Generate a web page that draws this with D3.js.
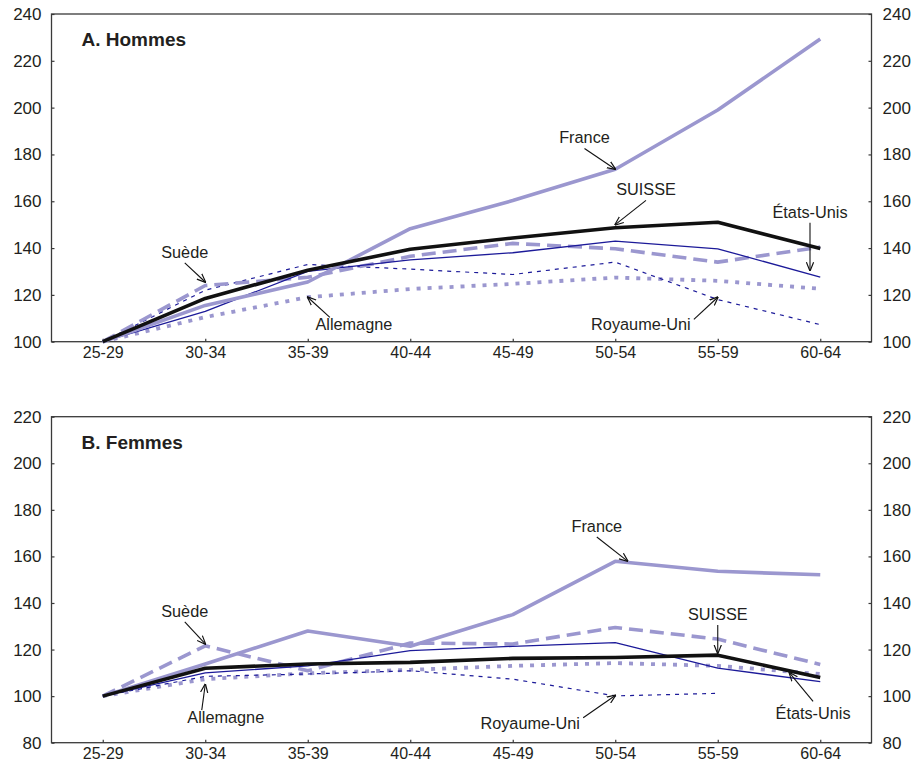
<!DOCTYPE html>
<html>
<head>
<meta charset="utf-8">
<script src="https://cdn.jsdelivr.net/npm/d3@7"></script>
<style>
  body { margin: 0; background: #fff; }
  text { font-family: "Liberation Sans", Arial, sans-serif; fill: #231f20; }
</style>
</head>
<body>
<div id="chart"></div>
<script>
// categories (age groups)
var ages = ["25-29", "30-34", "35-39", "40-44", "45-49", "50-54", "55-59", "60-64"];

// A. Hommes
var h_suisse    = [100, 118.5, 130.5, 139.5, 144.3, 148.7, 151, 139.8];
var h_france    = [100, 115.5, 125.5, 148.3, 160.3, 173.7, 199, 229.3];
var h_etatsunis = [100, 113, 130, 135, 138, 143, 139.7, 127.6];
var h_suede     = [100, 124, 127.5, 136.5, 142, 139.7, 134, 140.4];
var h_royaume   = [100, 122, 133, 131, 128.7, 134, 118, 107.3];
var h_allemagne = [100, 110.5, 119, 122.5, 124.7, 127.4, 126, 122.6];

// B. Femmes
var f_suisse    = [100, 112, 113.8, 114.5, 116.2, 116.6, 117.6, 108];
var f_france    = [100, 113.8, 128, 121.4, 135, 157.9, 153.6, 152.1];
var f_etatsunis = [100, 110, 113, 119.5, 121.4, 123, 112, 106.2];
var f_suede     = [100, 121.6, 110.9, 122.8, 122.4, 129.5, 124.5, 113.6];
var f_royaume   = [100, 108.5, 109.5, 110.9, 107.3, 100.1, 101.2, null];
var f_allemagne = [100, 107.3, 109.8, 111.3, 113, 114.2, 113, 109.5];

var ticksTop = [100, 120, 140, 160, 180, 200, 220, 240];
var ticksBottom = [80, 100, 120, 140, 160, 180, 200, 220];

// annotations: [text, label x (category index), label y (value), arrow end x, arrow end value]
var annTop = [
  ["France", 4.7, 184.7, 5.0, 173.7],
  ["SUISSE", 5.3, 162.5, 5.0, 150],
  ["États-Unis", 6.9, 153, 6.9, 130.5],
  ["Suède", 0.8, 135.8, 1.0, 125.5],
  ["Allemagne", 2.45, 104.8, 2.0, 119],
  ["Royaume-Uni", 5.25, 104.8, 6.0, 119]
];
var annBottom = [
  ["France", 4.82, 170.5, 5.12, 158],
  ["SUISSE", 6.0, 132.7, 6.0, 118.5],
  ["États-Unis", 6.93, 90, 6.7, 110],
  ["Suède", 0.8, 134, 1.0, 122.4],
  ["Allemagne", 1.2, 88.4, 1.0, 105],
  ["Royaume-Uni", 4.17, 86, 5.0, 100.3]
];

var W = 922, H = 764;
var left = 51.5, right = 871.5;

var svg = d3.select("#chart").append("svg")
  .attr("width", W).attr("height", H);

var defs = svg.append("defs");
defs.append("marker")
  .attr("id", "arrow")
  .attr("viewBox", "0 0 10 10")
  .attr("refX", 9).attr("refY", 5)
  .attr("markerWidth", 9).attr("markerHeight", 9)
  .attr("markerUnits", "userSpaceOnUse")
  .attr("orient", "auto")
  .append("path")
  .attr("d", "M0,1 L10,5 L0,9")
  .attr("fill", "none")
  .attr("stroke", "#111")
  .attr("stroke-width", 1.3);

var styles = {
  suisse:    {stroke: "#111111", width: 3.6, dash: null},
  france:    {stroke: "#9b97cf", width: 3.6, dash: null},
  etatsunis: {stroke: "#1c1a99", width: 1.3, dash: null},
  suede:     {stroke: "#9b97cf", width: 3.6, dash: "14,7"},
  royaume:   {stroke: "#1c1a99", width: 1.2, dash: "4,5"},
  allemagne: {stroke: "#9b97cf", width: 3.8, dash: "4,7"}
};

function panel(top, bottom, domain, ticks, title, series, ann) {
  var x = d3.scalePoint().domain(ages).range([left, right]).padding(0.5);
  var y = d3.scaleLinear().domain(domain).range([bottom, top]);
  var g = svg.append("g");

  // frame
  g.append("rect")
    .attr("x", left).attr("y", top)
    .attr("width", right - left).attr("height", bottom - top)
    .attr("fill", "none").attr("stroke", "#3a3a3a").attr("stroke-width", 1.3);

  var yl = g.append("g").attr("transform", "translate(" + left + ",0)")
    .call(d3.axisRight(y).tickValues(ticks).tickSize(3));
  var yr = g.append("g").attr("transform", "translate(" + right + ",0)")
    .call(d3.axisLeft(y).tickValues(ticks).tickSize(3));
  yl.selectAll("text").attr("text-anchor", "end").attr("x", -10);
  yr.selectAll("text").attr("text-anchor", "start").attr("x", 11);
  var xa = g.append("g").attr("transform", "translate(0," + bottom + ")")
    .call(d3.axisTop(x).tickSize(3));
  xa.selectAll("text").attr("y", 5).attr("dy", "0.71em").style("font-size", "16px");
  [yl, yr, xa].forEach(function (a) {
    a.select(".domain").remove();
    a.selectAll("line").attr("stroke", "#3a3a3a").attr("stroke-width", 1.2);
  });
  yl.selectAll("text").style("font-size", "17px");
  yr.selectAll("text").style("font-size", "17px");
  g.selectAll(".tick text").attr("fill", "#231f20")
    .style("font-family", "'Liberation Sans', Arial, sans-serif");

  var line = d3.line()
    .defined(function (d) { return d != null; })
    .x(function (d, i) { return x(ages[i]); })
    .y(function (d) { return y(d); });

  var order = ["allemagne", "royaume", "suede", "etatsunis", "france", "suisse"];
  order.forEach(function (k) {
    var s = styles[k];
    g.append("path")
      .datum(series[k])
      .attr("d", line)
      .attr("fill", "none")
      .attr("stroke", s.stroke)
      .attr("stroke-width", s.width)
      .attr("stroke-dasharray", s.dash)
      .attr("stroke-linejoin", "round");
  });

  var step = x.step();
  function px(i) { return x(ages[0]) + i * step; }

  ann.forEach(function (a) {
    var tx = px(a[1]), ty = y(a[2]);
    var ex = px(a[3]), ey = y(a[4]);
    g.append("text")
      .attr("x", tx).attr("y", ty)
      .attr("text-anchor", "middle")
      .style("font-size", "16.3px")
      .text(a[0]);
    // arrow start near the label
    var sx = tx, sy = ty + (ey > ty ? 5 : -17);
    if (a[0] === "Allemagne" && ey < ty && a[3] < a[1]) { sx = tx - 24; sy = ty - 13; }
    if (a[0] === "Royaume-Uni") { sx = tx + 53; sy = ty - 11; }
    if (a[0] === "États-Unis" && ey < ty) { sx = tx; sy = ty - 18; }
    g.append("line")
      .attr("x1", sx).attr("y1", sy)
      .attr("x2", ex).attr("y2", ey)
      .attr("stroke", "#111").attr("stroke-width", 1.1)
      .attr("marker-end", "url(#arrow)");
  });

  g.append("text")
    .attr("x", left + 30).attr("y", top + 32)
    .style("font-size", "19px").style("font-weight", "bold")
    .text(title);
}

panel(14, 341.7, [100, 240], ticksTop, "A. Hommes", {
  suisse: h_suisse, france: h_france, etatsunis: h_etatsunis,
  suede: h_suede, royaume: h_royaume, allemagne: h_allemagne
}, annTop);

panel(416.7, 742.7, [80, 220], ticksBottom, "B. Femmes", {
  suisse: f_suisse, france: f_france, etatsunis: f_etatsunis,
  suede: f_suede, royaume: f_royaume, allemagne: f_allemagne
}, annBottom);
</script>
</body>
</html>
